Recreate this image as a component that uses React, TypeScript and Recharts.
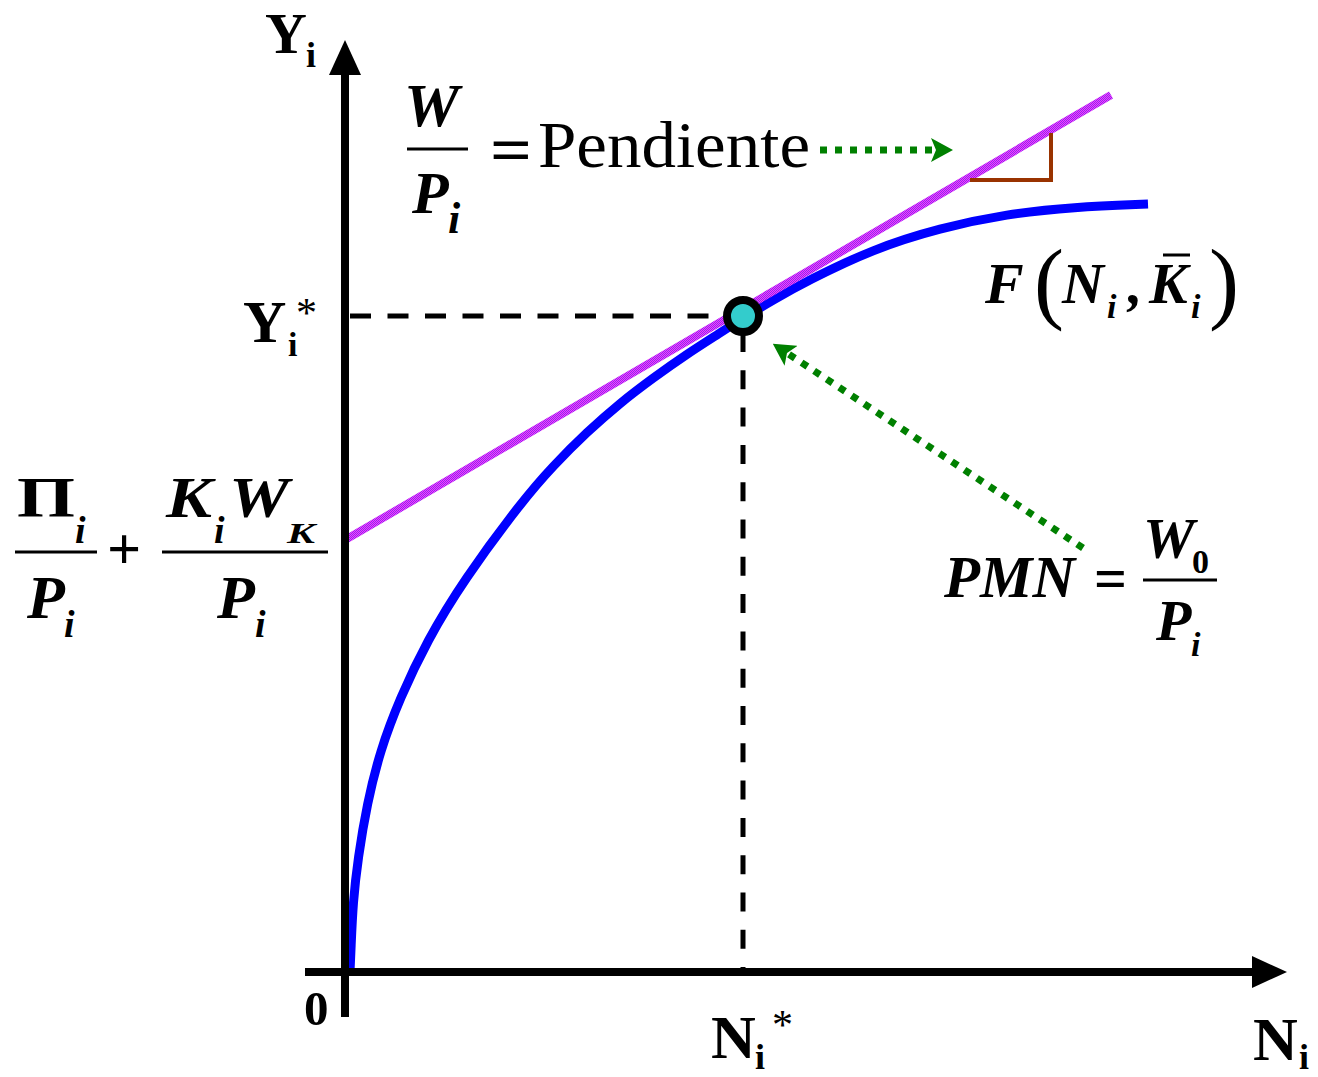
import React from 'react';
import { ComposedChart, Line, XAxis, YAxis, ReferenceLine } from 'recharts';

// production function F(N, K) (x = N, y = Y)
const curveN = [5, 6, 8, 13, 22, 35, 55, 82, 118, 178, 208, 242, 275, 308, 342, 375, 398, 428, 462, 528, 595, 662, 728, 803];
const curveY = [0, 23, 70, 114, 168, 221, 274, 331, 391, 472, 506, 540, 569, 594, 618, 639, 654, 672, 691, 723, 744, 758, 765, 768];

// tangent line (slope W/P)
const tangentN = [0, 766];
const tangentY = [432, 877];

// little slope triangle
const slopeN = [625, 706, 706];
const slopeY = [792, 792, 839];

// optimum (N*, Y*)
const optN = 398;
const optY = 656;

// axis and arrow segments [x1, y1, x2, y2]
const xAxisSeg = [-40, 0, 907, 0];
const yAxisSeg = [0, -45, 0, 897];
const arrowPend = [475, 822, 591, 822];
const arrowPmn = [738, 424, 442, 619];

const toPts = (xs: number[], ys: number[]) => xs.map((x, i) => ({ x, y: ys[i] }));

const curve = toPts(curveN, curveY);
const tangent = toPts(tangentN, tangentY);
const slope = toPts(slopeN, slopeY);
const guideH = [{ x: curveN[0], y: optY }, { x: optN, y: optY }];
const guideV = [{ x: optN, y: optY }, { x: optN, y: 0 }];
const opt = [{ x: optN, y: optY }];

const FONT = "'Liberation Serif', 'Times New Roman', serif";

const withMarker = (id: string) => (p: any) => (
    <line
        x1={p.x1}
        y1={p.y1}
        x2={p.x2}
        y2={p.y2}
        stroke={p.stroke}
        strokeWidth={p.strokeWidth}
        strokeDasharray={p.strokeDasharray}
        markerEnd={`url(#${id})`}
    />
);

const seg = (s: number[]) => [{ x: s[0], y: s[1] }, { x: s[2], y: s[3] }];

interface TProps {
    x: number;
    y: number;
    s: number;
    b?: boolean;
    i?: boolean;
    len?: number;
    children: React.ReactNode;
}

const T = ({ x, y, s, b = true, i = false, len, children }: TProps) => (
    <text
        x={x}
        y={y}
        fontSize={s}
        fontWeight={b ? 'bold' : 'normal'}
        fontStyle={i ? 'italic' : 'normal'}
        style={{ fontFamily: FONT }}
        textLength={len}
        lengthAdjust={len ? 'spacingAndGlyphs' : undefined}
    >
        {children}
    </text>
);

const Bar = ({ x1, x2, y }: { x1: number; x2: number; y: number }) => (
    <line x1={x1} x2={x2} y1={y} y2={y} stroke="#000" strokeWidth={3} />
);

const Labels = () => (
    <svg
        width={1318}
        height={1077}
        style={{ position: 'absolute', left: 0, top: 0, pointerEvents: 'none' }}
        fill="#000"
    >
        {/* Y axis title */}
        <T x={265} y={53} s={58}>Y</T>
        <T x={306} y={67} s={36}>i</T>

        {/* W / P = Pendiente */}
        <T x={404} y={126} s={62} i>W</T>
        <Bar x1={407} x2={468} y={149} />
        <T x={412} y={213} s={60} i>P</T>
        <T x={448} y={233} s={44} i>i</T>
        <T x={490} y={172} s={66} len={42}>=</T>
        <T x={538} y={167} s={66} b={false} len={272}>Pendiente</T>

        {/* Y* */}
        <T x={243} y={342} s={60}>Y</T>
        <T x={288} y={356} s={34}>i</T>
        <T x={296} y={327} s={42} b={false}>*</T>

        {/* Pi/P + K W_K / P */}
        <T x={17} y={517} s={56} len={58}>Π</T>
        <T x={75} y={543} s={38} i>i</T>
        <Bar x1={15} x2={97} y={552} />
        <T x={27} y={618} s={62} i>P</T>
        <T x={64} y={637} s={38} i>i</T>
        <T x={107} y={569} s={60}>+</T>
        <T x={166} y={517} s={56} i len={46}>K</T>
        <T x={214} y={543} s={38} i>i</T>
        <T x={229} y={517} s={56} i len={60}>W</T>
        <T x={287} y={543} s={30} i len={28}>K</T>
        <Bar x1={162} x2={328} y={552} />
        <T x={217} y={618} s={62} i>P</T>
        <T x={255} y={637} s={38} i>i</T>

        {/* F(N_i, K_i) */}
        <T x={985} y={303} s={58} i>F</T>
        <T x={1034} y={312} s={90} b={false}>(</T>
        <T x={1062} y={303} s={58} i>N</T>
        <T x={1107} y={318} s={34} i>i</T>
        <T x={1128} y={303} s={58} i>,</T>
        <T x={1149} y={303} s={58} i>K</T>
        <line x1={1163} x2={1190} y1={255} y2={255} stroke="#000" strokeWidth={3} />
        <T x={1191} y={318} s={34} i>i</T>
        <T x={1209} y={312} s={90} b={false}>)</T>

        {/* PMN = W0 / P */}
        <T x={944} y={597} s={59} i>PMN</T>
        <T x={1094} y={598} s={60} len={33}>=</T>
        <Bar x1={1143} x2={1217} y={580} />
        <T x={1143} y={558} s={58} i>W</T>
        <T x={1192} y={573} s={34}>0</T>
        <T x={1156} y={640} s={58} i>P</T>
        <T x={1191} y={656} s={34} i>i</T>

        {/* x axis labels */}
        <T x={304} y={1025} s={49}>0</T>
        <T x={711} y={1058} s={62}>N</T>
        <T x={755} y={1069} s={36}>i</T>
        <T x={772} y={1039} s={42} b={false}>*</T>
        <T x={1253} y={1060} s={62}>N</T>
        <T x={1299} y={1069} s={36}>i</T>
    </svg>
);

export default function App() {
    return (
        <div style={{ position: 'absolute', left: 0, top: 0, width: 1318, height: 1077, background: '#fff' }}>
            <ComposedChart
                width={1318}
                height={1077}
                margin={{ top: 40, right: 33, bottom: 105, left: 345 }}
            >
                <defs>
                    <pattern id="chk" width={2} height={2} patternUnits="userSpaceOnUse">
                        <rect width={2} height={2} fill="#ff33ff" />
                        <rect width={1} height={1} fill="#8833ee" />
                        <rect x={1} y={1} width={1} height={1} fill="#8833ee" />
                    </pattern>
                    <marker id="axisHead" markerUnits="userSpaceOnUse" markerWidth={35} markerHeight={32}
                        viewBox="0 0 35 32" refX={0} refY={16} orient="auto">
                        <path d="M0,0 L35,16 L0,32 Z" fill="#000" />
                    </marker>
                    <marker id="greenHead" markerUnits="userSpaceOnUse" markerWidth={22} markerHeight={24}
                        viewBox="0 0 22 24" refX={5} refY={12} orient="auto">
                        <path d="M0,0 L22,12 L0,24 L5,12 Z" fill="#008000" />
                    </marker>
                </defs>
                <XAxis type="number" dataKey="x" domain={[0, 940]} hide />
                <YAxis type="number" domain={[0, 932]} hide />

                <Line data={guideH} dataKey="y" type="linear" stroke="#000" strokeWidth={5}
                    strokeDasharray="21 16.5" dot={false} activeDot={false} isAnimationActive={false} />
                <Line data={guideV} dataKey="y" type="linear" stroke="#000" strokeWidth={5}
                    strokeDasharray="19 18.3" strokeDashoffset={20.3} dot={false} activeDot={false} isAnimationActive={false} />
                <Line data={curve} dataKey="y" type="basis" stroke="#0000ff" strokeWidth={9}
                    dot={false} activeDot={false} isAnimationActive={false} />
                <Line data={tangent} dataKey="y" type="linear" stroke="url(#chk)" strokeWidth={8}
                    dot={false} activeDot={false} isAnimationActive={false} />
                <Line data={slope} dataKey="y" type="linear" stroke="#993300" strokeWidth={4}
                    dot={false} activeDot={false} isAnimationActive={false} />

                <ReferenceLine segment={seg(xAxisSeg)} stroke="#000" strokeWidth={8} ifOverflow="visible"
                    shape={withMarker('axisHead')} />
                <ReferenceLine segment={seg(yAxisSeg)} stroke="#000" strokeWidth={8} ifOverflow="visible"
                    shape={withMarker('axisHead')} />
                <ReferenceLine segment={seg(arrowPend)} stroke="#008000" strokeWidth={7} strokeDasharray="7 8"
                    ifOverflow="visible" shape={withMarker('greenHead')} />
                <ReferenceLine segment={seg(arrowPmn)} stroke="#008000" strokeWidth={7} strokeDasharray="7 8"
                    ifOverflow="visible" shape={withMarker('greenHead')} />

                <Line data={opt} dataKey="y" stroke="none" isAnimationActive={false} activeDot={false}
                    dot={{ r: 16, fill: '#33cccc', stroke: '#000', strokeWidth: 8 }} />
            </ComposedChart>
            <Labels />
        </div>
    );
}
